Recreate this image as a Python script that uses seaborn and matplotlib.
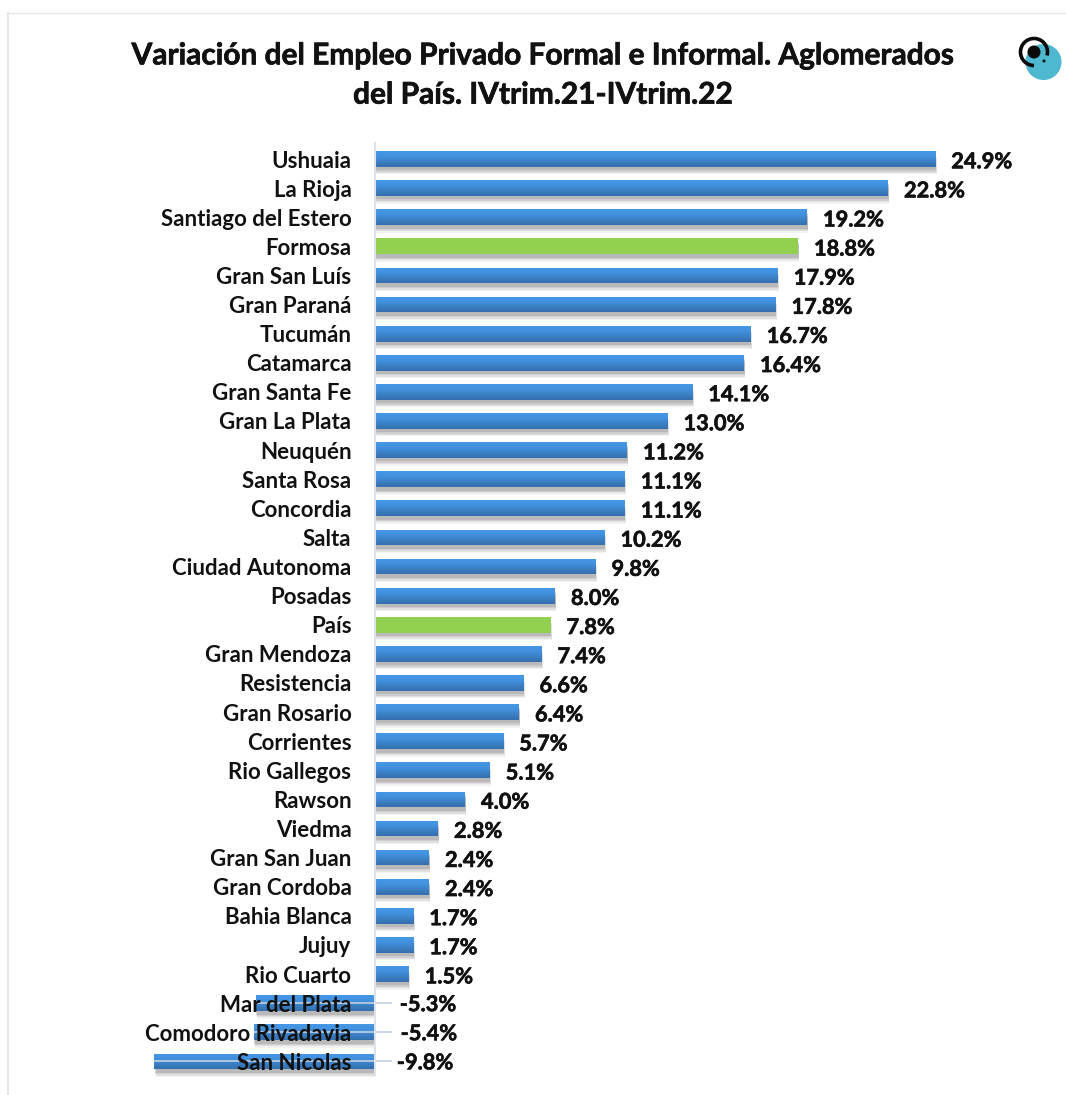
import numpy as np
import pandas as pd
import matplotlib
matplotlib.use('Agg')
import matplotlib.pyplot as plt
import matplotlib.patheffects as pe
from matplotlib.colors import LinearSegmentedColormap
from matplotlib.patches import Circle, Arc
from matplotlib.transforms import ScaledTranslation
import seaborn as sns

aglomerados = ['Ushuaia', 'La Rioja', 'Santiago del Estero', 'Formosa', 'Gran San Luís',
               'Gran Paraná', 'Tucumán', 'Catamarca', 'Gran Santa Fe', 'Gran La Plata',
               'Neuquén', 'Santa Rosa', 'Concordia', 'Salta', 'Ciudad Autonoma', 'Posadas',
               'País', 'Gran Mendoza', 'Resistencia', 'Gran Rosario', 'Corrientes',
               'Rio Gallegos', 'Rawson', 'Viedma', 'Gran San Juan', 'Gran Cordoba',
               'Bahia Blanca', 'Jujuy', 'Rio Cuarto', 'Mar del Plata',
               'Comodoro Rivadavia', 'San Nicolas']
variacion = [24.9, 22.8, 19.2, 18.8, 17.9, 17.8, 16.7, 16.4, 14.1, 13.0, 11.2, 11.1, 11.1,
             10.2, 9.8, 8.0, 7.8, 7.4, 6.6, 6.4, 5.7, 5.1, 4.0, 2.8, 2.4, 2.4, 1.7, 1.7,
             1.5, -5.3, -5.4, -9.8]
destacados = ['Formosa', 'País']

plt.rcParams['font.family'] = ['Lato', 'DejaVu Sans']
plt.rcParams['font.weight'] = 'bold'

df = pd.DataFrame({'aglomerado': aglomerados, 'variacion': variacion})
df['grupo'] = np.where(df['aglomerado'].isin(destacados), 'verde', 'azul')

W, H = 1066, 1095
fig = plt.figure(figsize=(W / 100, H / 100), dpi=100)
ax = fig.add_axes([0, 0, 1, 1])
ax.patch.set_alpha(0)

sns.barplot(data=df, x='variacion', y='aglomerado', hue='grupo', hue_order=['azul', 'verde'],
            palette={'azul': '#3f86cf', 'verde': '#92d050'}, dodge=False, width=0.54,
            legend=False, saturation=1, ax=ax)

# escala en pixeles de la imagen
px_x = 22.5
px_y = 29.11
x0, y0 = 375, 159
xlim = (-x0 / px_x, (W - x0) / px_x)
ylim = ((H - y0) / px_y, -y0 / px_y)

sombra = [pe.SimplePatchShadow(offset=(1, -5.5), shadow_rgbFace='k', alpha=0.05),
          pe.SimplePatchShadow(offset=(1, -4.5), shadow_rgbFace='k', alpha=0.07),
          pe.SimplePatchShadow(offset=(0.5, -3.5), shadow_rgbFace='k', alpha=0.08),
          pe.SimplePatchShadow(offset=(0.5, -2.5), shadow_rgbFace='k', alpha=0.10),
          pe.Normal()]
grad = LinearSegmentedColormap.from_list('barra', ['#4598e4', '#4291de', '#3b80c4', '#3470ae'])
for cont in ax.containers:
    for p in cont:
        p.set_path_effects(sombra)
        p.set_linewidth(0)
        p.set_zorder(1)
for p in ax.containers[0]:
    if p.get_width() == 0 or np.isnan(p.get_width()):
        continue
    b = p.get_bbox()
    im = ax.imshow(np.linspace(0, 1, 32).reshape(-1, 1), cmap=grad, aspect='auto',
                   extent=(b.x0, b.x1, b.y1, b.y0), zorder=1.1)
    im.set_clip_path(p)

trazo = [pe.withStroke(linewidth=0.45, foreground='#111111')]

# lineas guia de los negativos y etiquetas
desvio_neg = {-5.3: 1.1, -5.4: 1.14, -9.8: 0.97}
for i, v in enumerate(variacion):
    if v < 0:
        ax.plot([v, 0.75], [i, i], color='#c3d0de', lw=1.2, zorder=1.5, solid_capstyle='butt')
        ax.annotate(f'{v:.1f}%', (0, i), xytext=(desvio_neg[v], i + 0.05),
                    textcoords='data', ha='left', va='center', fontsize=15.7, color='#111111',
                    path_effects=trazo)
    else:
        ax.annotate(f'{v:.1f}%', (v, i), xytext=(11.5, -2), textcoords='offset points',
                    ha='left', va='center', fontsize=15.7, color='#111111', path_effects=trazo)

ax.set_xlim(xlim)
ax.set_ylim(ylim)
ax.set_xlabel('')
ax.set_ylabel('')
ax.xaxis.set_visible(False)
ax.set_axisbelow(False)
ax.tick_params(axis='y', length=0, pad=17, labelsize=16, labelcolor='#111111')
baja = ScaledTranslation(0, -1 / 100, fig.dpi_scale_trans)
for lab in ax.get_yticklabels():
    lab.set_fontweight('bold')
    lab.set_path_effects(trazo)
    lab.set_zorder(5)
    lab.set_transform(lab.get_transform() + baja)
for s in ['top', 'right', 'bottom']:
    ax.spines[s].set_visible(False)
ax.spines['left'].set_position(('data', 0))
ax.spines['left'].set_bounds((1075 - y0) / px_y, (143 - y0) / px_y)
ax.spines['left'].set_color('#dde3ea')
ax.spines['left'].set_linewidth(1.5)

fig.text(543 / W, 1 - 75 / H,
         'Variación del Empleo Privado Formal e Informal. Aglomerados\ndel País. IVtrim.21-IVtrim.22',
         ha='center', va='center', fontsize=21.5, fontweight='bold', color='#111111',
         linespacing=1.49, path_effects=[pe.withStroke(linewidth=0.5, foreground='#111111')])

# marco de la imagen
fig.add_artist(plt.Line2D([8 / W, 8 / W], [0, 1 - 13 / H], color='#e3e6ea', lw=1.5))
fig.add_artist(plt.Line2D([8 / W, 1], [1 - 13 / H, 1 - 13 / H], color='#e3e6ea', lw=1))

# logo
logo = fig.add_axes([1010 / W, 1 - 90 / H, 56 / W, 60 / H])
logo.set_xlim(1010, 1066)
logo.set_ylim(90, 30)
logo.axis('off')
logo.add_patch(Circle((1043.5, 62), 18, color='#4db8cf', lw=0))
logo.add_patch(Arc((1034, 52), 27, 27, theta1=90, theta2=375, color='#0a0a0a', lw=2.6))
logo.add_patch(Circle((1034, 52), 6.5, color='#0a0a0a', lw=0))
logo.add_patch(Circle((1044, 61), 1.5, color='#0a0a0a', lw=0))

fig.savefig('out.png', dpi=100, facecolor='white')
